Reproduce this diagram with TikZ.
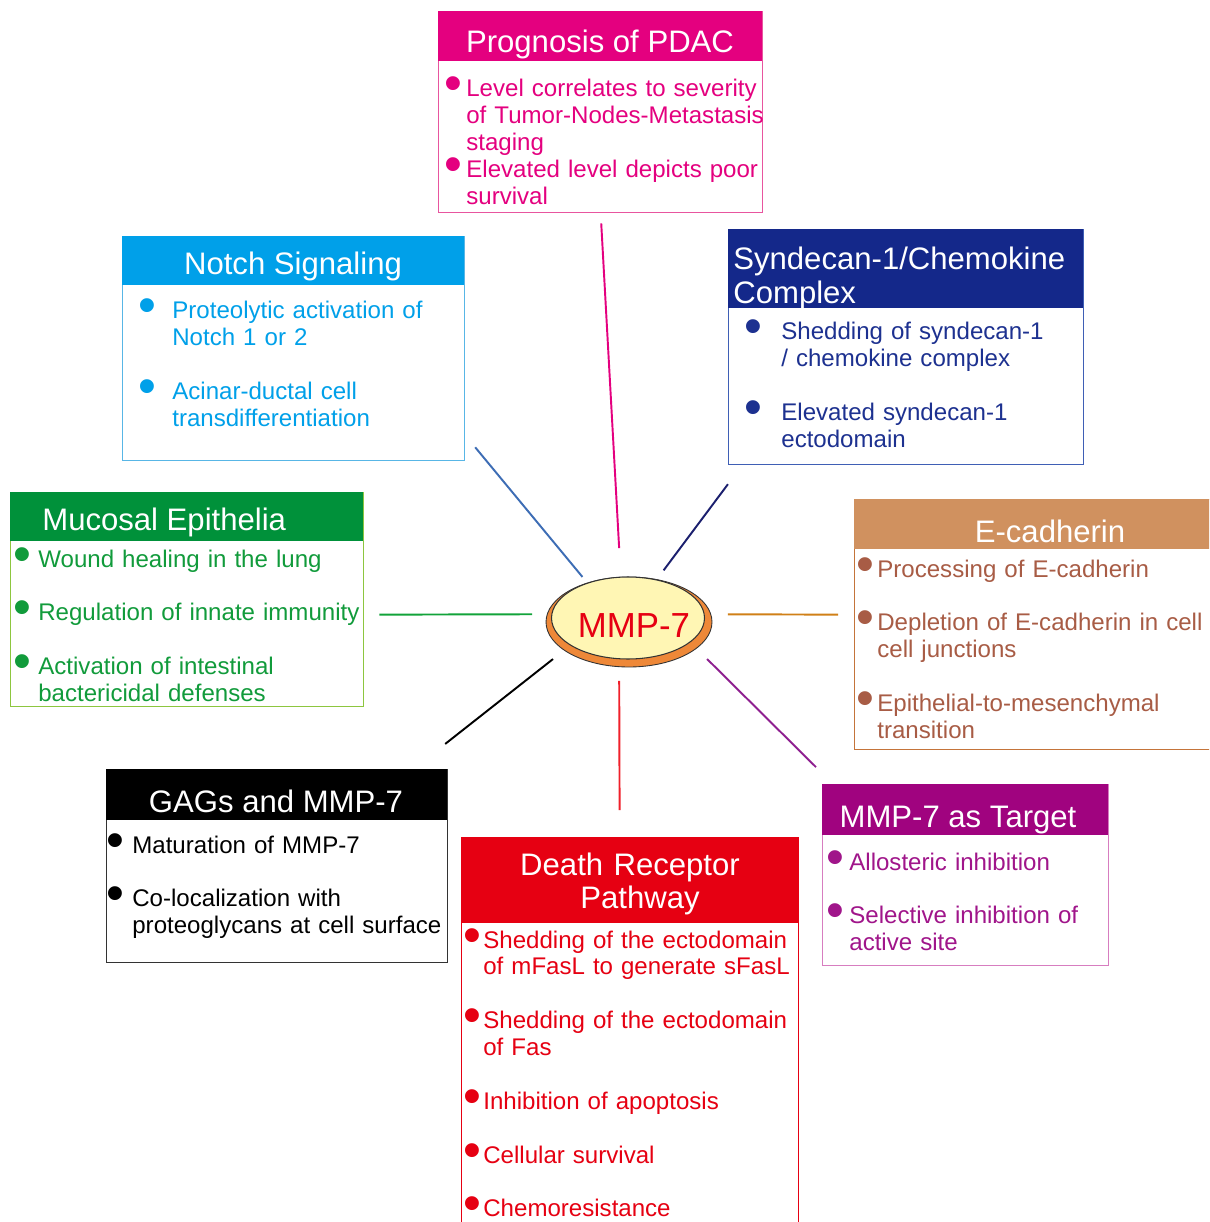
\documentclass[tikz,border=0pt]{standalone}
\usepackage{fontspec}
\setmainfont{Liberation Sans}
\usetikzlibrary{shapes.geometric}

\definecolor{pdacc}{HTML}{E4007F}
\definecolor{pdacl}{HTML}{E8559F}
\definecolor{notchc}{HTML}{00A0E9}
\definecolor{notchl}{HTML}{58B6E6}
\definecolor{syndc}{HTML}{14288A}
\definecolor{syndt}{HTML}{1D3190}
\definecolor{syndl}{HTML}{3F5FB5}
\definecolor{mucc}{HTML}{00913A}
\definecolor{muct}{HTML}{119B3B}
\definecolor{mucl}{HTML}{8DC63F}
\definecolor{ecadc}{HTML}{D0915F}
\definecolor{ecadt}{HTML}{A85C45}
\definecolor{ecadl}{HTML}{C4743A}
\definecolor{deathc}{HTML}{E60012}
\definecolor{targc}{HTML}{A0037F}
\definecolor{targt}{HTML}{A0158A}
\definecolor{targl}{HTML}{D77DC0}
\definecolor{lnotch}{HTML}{3D6DB5}
\definecolor{lsynd}{HTML}{1B1F6E}
\definecolor{lmuc}{HTML}{12A33A}
\definecolor{lecad}{HTML}{D08018}
\definecolor{ldeath}{HTML}{F0202A}
\definecolor{ltarg}{HTML}{8E2090}
\definecolor{ringc}{HTML}{EE8838}
\definecolor{corec}{HTML}{FFF6B4}

\newcommand{\bul}[1]{\leavevmode\llap{\makebox[0pt][c]{\smash{\raisebox{-0.08cm}{\fontsize{29}{29}\selectfont\textbullet}}}\hspace{#1}}}

\begin{document}
\begin{tikzpicture}[x=0.02cm,y=-0.02cm,
    frame/.style={draw=#1,line width=0.8pt,inner sep=0pt,anchor=north west},
    head/.style={inner sep=0pt,text=white,anchor=base,font=\fontsize{17.7}{19.3}\selectfont},
    body/.style={inner sep=0pt,text=#1,anchor=base west,text width=8cm,align=left,
                 font=\fontsize{13.7}{15.3}\selectfont},
    link/.style={draw=#1,line width=1.1pt}]
  \useasboundingbox (0,0) rectangle (1209,1222);
  \clip (0,0) rectangle (1209,1222);
  \fill[white] (0,0) rectangle (1209,1222);

  % Prognosis of PDAC
  \node[frame=pdacl,minimum width=6.48cm,minimum height=4.02cm](pdac)at(438,11){};
  \fill[pdacc] (pdac.north west) rectangle ++(324,50);
  \node[head](pdac-h)at(600,53){Prognosis of PDAC};
  \node[body=pdacc](pdac-b)at(466,97){\bul{0.26cm}Level correlates to severity\\of Tumor-Nodes-Metastasis\\staging\\
    \bul{0.26cm}Elevated level depicts poor\\survival};

  % Notch Signaling
  \node[frame=notchl,minimum width=6.84cm,minimum height=4.48cm](notch)at(122,236){};
  \fill[notchc] (notch.north west) rectangle ++(342,49);
  \node[head](notch-h)at(293,275){Notch Signaling};
  \node[body=notchc](notch-b)at(172,319){\bul{0.5cm}Proteolytic activation of\\Notch 1 or 2\\[15.3pt]
    \bul{0.5cm}Acinar-ductal cell\\transdifferentiation};

  % Syndecan-1/Chemokine Complex
  \node[frame=syndl,minimum width=7.1cm,minimum height=4.7cm](synd)at(728,229){};
  \fill[syndc] (synd.north west) rectangle ++(355,79);
  \node[head,anchor=base west,text width=6.9cm,align=left](synd-h)at(733,270){Syndecan-1/Chemokine\\Complex};
  \node[body=syndt](synd-b)at(781,340){\bul{0.56cm}Shedding of syndecan-1\\/ chemokine complex\\[15.3pt]
    \bul{0.56cm}Elevated syndecan-1\\ectodomain};

  % Mucosal Epithelia
  \node[frame=mucl,minimum width=7.06cm,minimum height=4.28cm](muc)at(10,492){};
  \fill[mucc] (muc.north west) rectangle ++(353,49);
  \node[head,anchor=base west](muc-h)at(42,530){Mucosal Epithelia};
  \node[body=muct](muc-b)at(38,567){\bul{0.32cm}Wound healing in the lung\\[15.3pt]
    \bul{0.32cm}Regulation of innate immunity\\[15.3pt]
    \bul{0.32cm}Activation of intestinal\\bactericidal defenses};

  % E-cadherin
  \node[frame=ecadl,minimum width=7.84cm,minimum height=5cm](ecad)at(854,499){};
  \fill[ecadc] (ecad.north west) rectangle ++(392,50);
  \node[head](ecad-h)at(1050,542){E-cadherin};
  \node[body=ecadt](ecad-b)at(877,577){\bul{0.24cm}Processing of E-cadherin\\[15.3pt]
    \bul{0.24cm}Depletion of E-cadherin in cell -\\cell junctions\\[15.3pt]
    \bul{0.24cm}Epithelial-to-mesenchymal\\transition};

  % GAGs and MMP-7
  \node[frame=black!80,minimum width=6.82cm,minimum height=3.86cm](gags)at(106,769){};
  \fill[black] (gags.north west) rectangle ++(341,51);
  \node[head](gags-h)at(276,812){GAGs and MMP-7};
  \node[body=black](gags-b)at(132,853){\bul{0.34cm}Maturation of MMP-7\\[15.3pt]
    \bul{0.34cm}Co-localization with\\proteoglycans at cell surface};

  % Death Receptor Pathway
  \node[frame=deathc,minimum width=6.74cm,minimum height=8.06cm](death)at(461,837){};
  \fill[deathc] (death.north west) rectangle ++(337,86);
  \node[head,text width=6.5cm,align=center](death-h)at(630,875){Death Receptor\\\hspace*{0.4cm}Pathway};
  \node[body=deathc](death-b)at(483,948){\bul{0.22cm}Shedding of the ectodomain\\of mFasL to generate sFasL\\[15.3pt]
    \bul{0.22cm}Shedding of the ectodomain\\of Fas\\[15.3pt]
    \bul{0.22cm}Inhibition of apoptosis\\[15.3pt]
    \bul{0.22cm}Cellular survival\\[15.3pt]
    \bul{0.22cm}Chemoresistance};

  % MMP-7 as Target
  \node[frame=targl,minimum width=5.72cm,minimum height=3.62cm](targ)at(822,784){};
  \fill[targc] (targ.north west) rectangle ++(286,51);
  \node[head](targ-h)at(958,827){MMP-7 as Target};
  \node[body=targt](targ-b)at(849,870){\bul{0.28cm}Allosteric inhibition\\[15.3pt]
    \bul{0.28cm}Selective inhibition of\\active site};

  % MMP-7
  \filldraw[fill=ringc,draw=black!80,line width=0.5pt] (629,622) ellipse (1.66cm and 0.9cm);
  \node[ellipse,draw=black!80,line width=0.6pt,fill=corec,minimum width=3.06cm,minimum height=1.64cm,
        inner sep=0pt,text=deathc,font=\fontsize{19.8}{20}\selectfont,text height=0.8cm,text depth=0pt]
        (mmp)at(628,618){\makebox[0pt][c]{\hspace*{0.24cm}MMP-7}};

  \draw[link=pdacc,shorten <=1.4cm,shorten >=0.2cm]([xshift=-0.1cm]mmp.center)--(pdac.south);
  \draw[link=lnotch,shorten <=1.43cm,shorten >=0.31cm]([yshift=-0.28cm]mmp.center)--([yshift=0.52cm]notch.south east);
  \draw[link=lsynd,shorten <=1.19cm,shorten >=0.47cm](mmp.center)--([xshift=0.28cm]synd.south west);
  \draw[link=lmuc,shorten <=1.92cm,shorten >=0.3cm]([yshift=0.08cm]mmp.center)--([yshift=-0.3cm]muc.east);
  \draw[link=lecad,shorten <=2cm,shorten >=0.32cm]([yshift=0.08cm]mmp.center)--([yshift=0.2cm]ecad.west);
  \draw[link=black,shorten <=1.91cm,shorten >=0.81cm]([yshift=0.36cm]mmp.center)--([xshift=-0.7cm]gags.north east);
  \draw[link=ldeath,shorten <=1.26cm,shorten >=0.54cm]([xshift=-0.18cm]mmp.center)--([xshift=-0.21cm]death.north);
  \draw[link=ltarg,shorten <=2.23cm,shorten >=0.48cm]([yshift=0.75cm]mmp.center)--([xshift=0.22cm]targ.north west);
\end{tikzpicture}
\end{document}
